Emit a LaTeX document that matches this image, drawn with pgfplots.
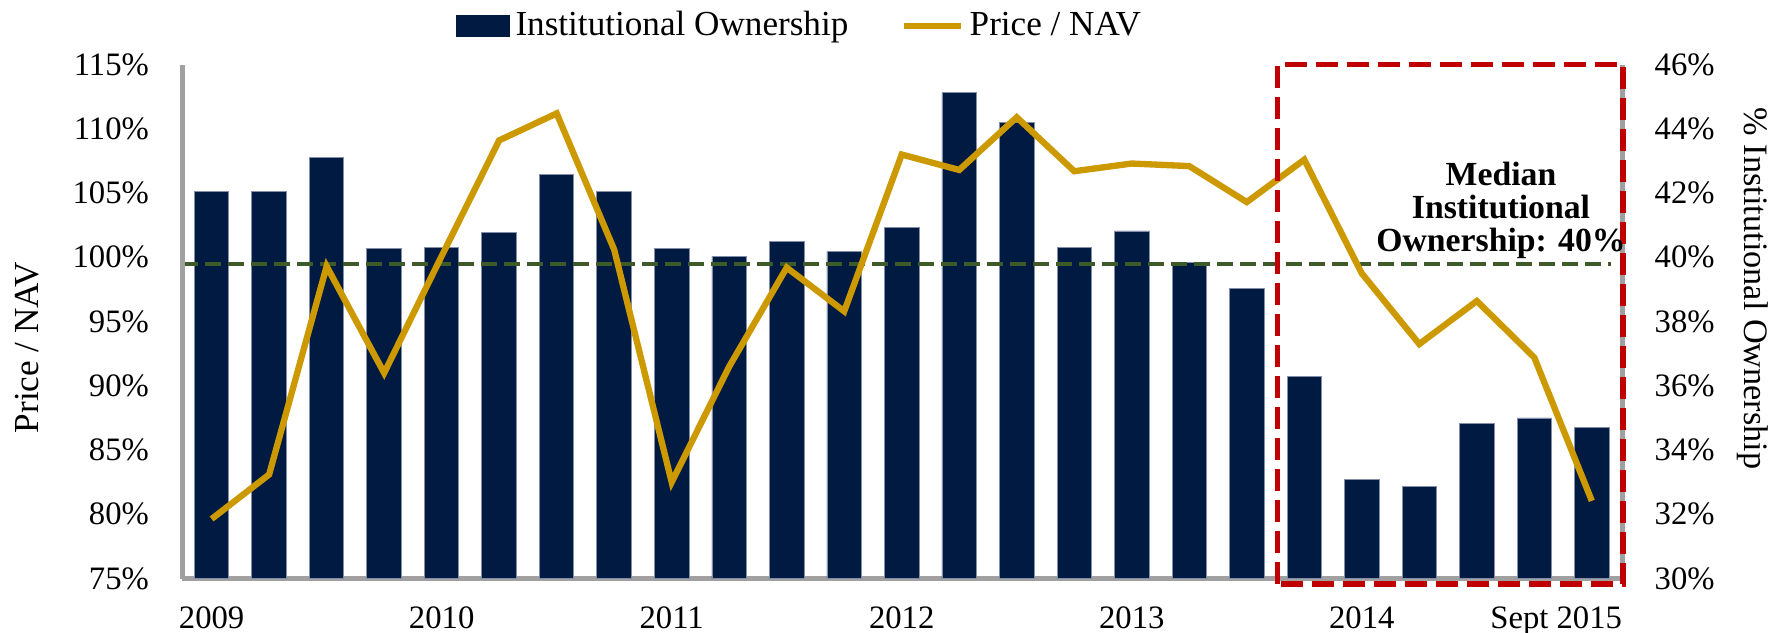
\documentclass[border=0pt]{standalone}
\usepackage{pgfplots}
\pgfplotsset{compat=1.18}
\usepackage{fontspec}
\setmainfont{Liberation Serif}
\definecolor{navyc}{RGB}{1,26,66}
\definecolor{goldc}{RGB}{204,153,0}
\definecolor{greenc}{RGB}{61,90,40}
\definecolor{redc}{RGB}{192,0,0}
\definecolor{axgray}{RGB}{160,160,160}
\definecolor{baredge}{RGB}{130,142,170}
\begin{document}
\begin{tikzpicture}
\pgfplotsset{
  common/.style={
    scale only axis, width=144mm, height=51.4mm,
    at={(0,0)}, anchor=south west,
    xmin=-0.51, xmax=24.53,
    major tick length=0pt,
    axis line style={axgray, line width=1.5pt},
    tick label style={font=\fontsize{9.3}{11}\selectfont, black},
    label style={font=\fontsize{10}{12}\selectfont},
  }
}
\begin{axis}[common,
  ymin=30, ymax=46,
  axis y line*=right, axis x line*=bottom,
  ytick={30,32,...,46},
  yticklabels={30\%,32\%,34\%,36\%,38\%,40\%,42\%,44\%,46\%},
  yticklabel style={xshift=2mm},
  xtick={0,4,8,12,16,20,23.38},
  xticklabels={2009,2010,2011,2012,2013,2014,Sept 2015},
  xticklabel style={yshift=-1.6mm},
  ylabel={\% Institutional Ownership},
  ylabel style={at={(axis description cs:1.0908,0.564)}, anchor=center, rotate=180, font=\fontsize{9.75}{12}\selectfont},
]
\addplot[ybar, bar width=0.6, fill=navyc, draw=baredge, line width=0.25pt] coordinates {
(0,42.06) (1,42.06) (2,43.11) (3,40.29) (4,40.32) (5,40.76) (6,42.59) (7,42.04)
(8,40.29) (9,40.03) (10,40.49) (11,40.18) (12,40.93) (13,45.12) (14,44.19) (15,40.31)
(16,40.82) (17,39.84) (18,39.03) (19,36.29) (20,33.08) (21,32.87) (22,34.83) (23,35.00) (24,34.69)};
\addplot[greenc, line width=1pt, dash pattern=on 1.6mm off 0.7mm] coordinates {(-0.51,39.8) (24.34,39.8)};
\end{axis}
\begin{axis}[common,
  ymin=75, ymax=115,
  axis y line*=left, axis x line=none,
  ytick={75,80,...,115},
  yticklabels={75\%,80\%,85\%,90\%,95\%,100\%,105\%,110\%,115\%},
  yticklabel style={xshift=-2.1mm},
  ylabel={Price / NAV},
  ylabel style={at={(axis description cs:-0.1076,0.4496)}, anchor=center},
  clip=false,
  legend style={at={(axis description cs:0.43,1.075)}, anchor=center, draw=none, fill=none,
    font=\fontsize{10}{12}\selectfont, legend columns=2,
    /tikz/every even column/.append style={column sep=4.6mm},
    inner sep=0pt, cells={anchor=west}, nodes={inner xsep=0.6mm, inner ysep=0pt}},
]
\addlegendimage{legend image code/.code={\fill[navyc] (0mm,-1mm) rectangle (5.2mm,1mm);}}
\addlegendentry{Institutional Ownership}
\addplot[goldc, line width=1.8pt, legend image code/.code={\draw[goldc, line width=1.8pt] (0mm,0mm) -- (5.7mm,0mm);}] coordinates {
(0,79.64) (1,83.1) (2,99.3) (3,91.0) (4,100.1) (5,109.1) (6,111.2) (7,100.6)
(8,82.5) (9,91.5) (10,99.2) (11,95.8) (12,108.0) (13,106.8) (14,110.9) (15,106.7)
(16,107.3) (17,107.1) (18,104.3) (19,107.6) (20,98.75) (21,93.25) (22,96.6) (23,92.2) (24,81.05)};
\addlegendentry{Price / NAV}
\draw[redc, line width=1.5pt, dash pattern=on 2.2mm off 0.9mm] (axis cs:18.53,74.57) rectangle (axis cs:24.54,115);
\node[font=\bfseries\fontsize{9.6}{9.4}\selectfont, align=center] at (axis cs:22.42,103.65) {Median\\Institutional\\Ownership: 40\%};
\end{axis}
\pgfresetboundingbox
\useasboundingbox (-18.23mm,-5.44mm) rectangle (158.67mm,57.86mm);
\end{tikzpicture}
\end{document}
